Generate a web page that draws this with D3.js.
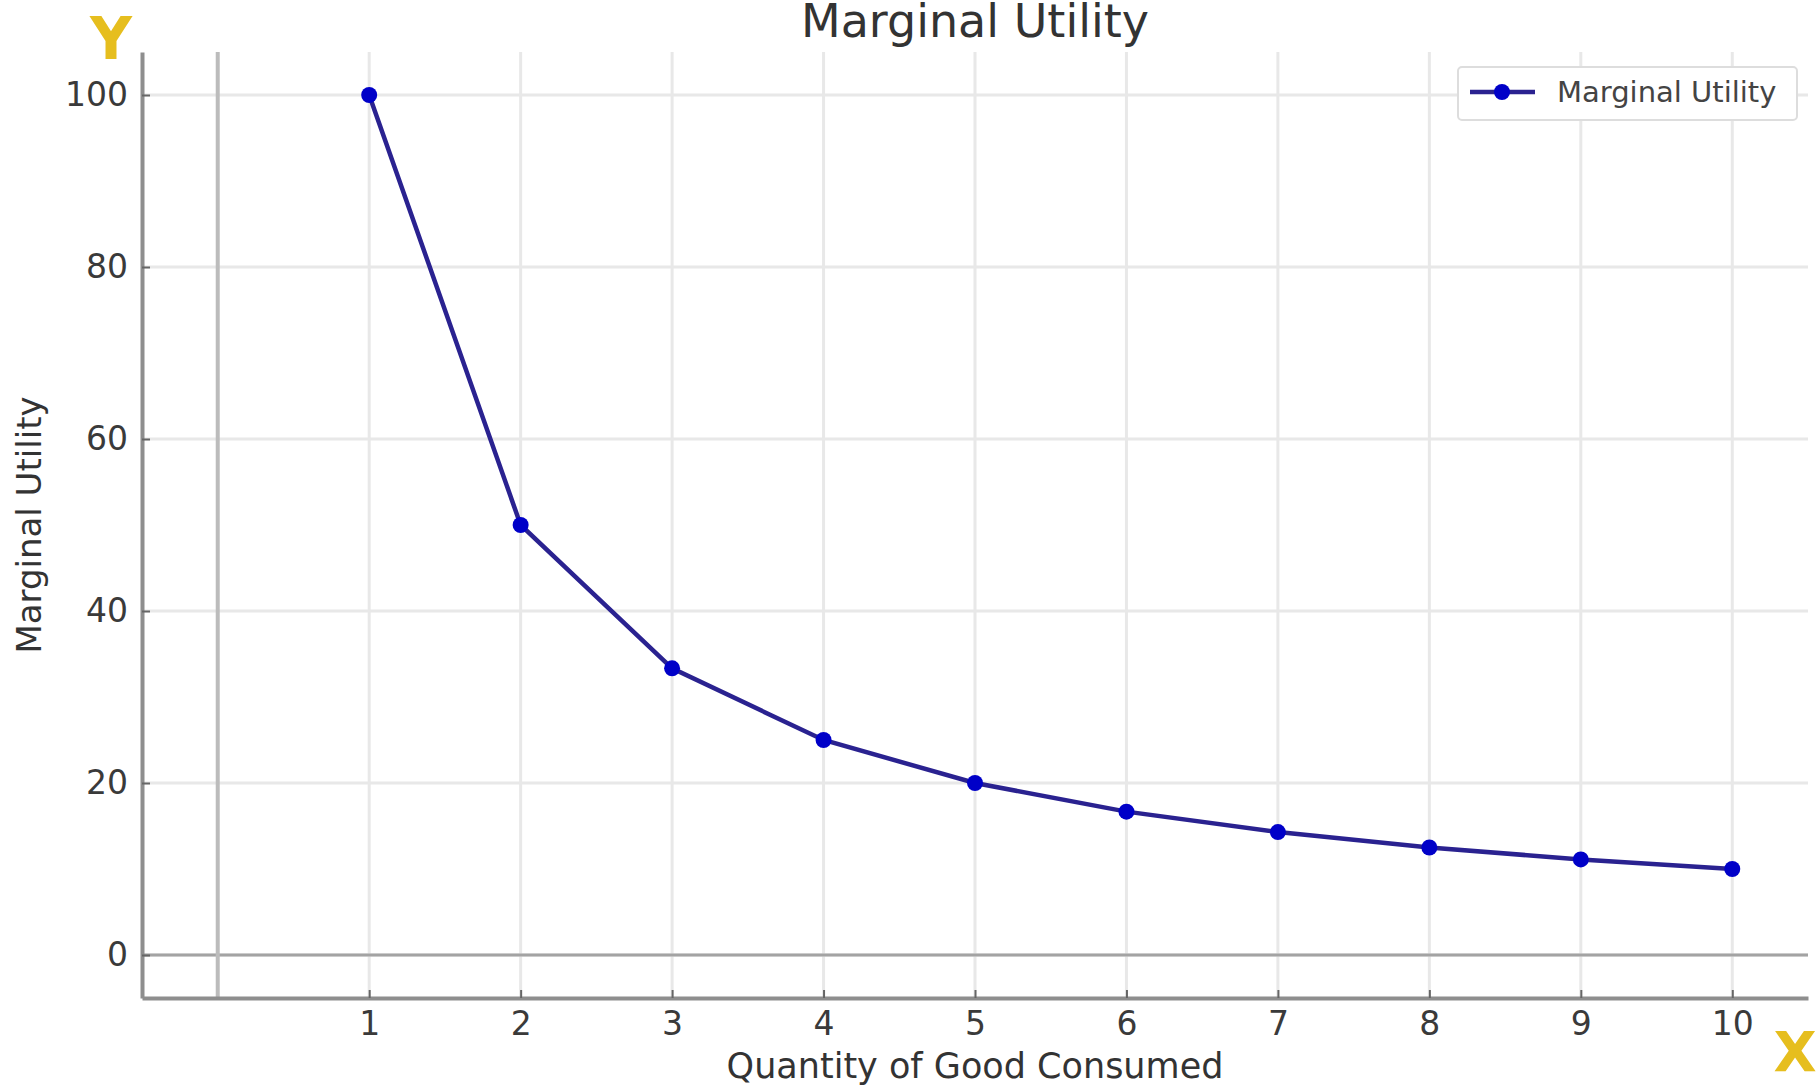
<!DOCTYPE html>
<html lang="en">
    <head>
       <meta charset="utf-8">
       <script src="https://d3js.org/d3.v7.min.js"></script>
       <style>
           body { margin: 0; background: #ffffff; }
           text { font-family: "DejaVu Sans", sans-serif; }
       </style>
    </head>
    <body>

        <script>
            var width  = 1816;
            var height = 1090;

            // data
            var quantity = [1, 2, 3, 4, 5, 6, 7, 8, 9, 10];
            var utility  = [100, 50, 33.33, 25, 20, 16.67, 14.29, 12.5, 11.11, 10];
            var x_ticks  = [1, 2, 3, 4, 5, 6, 7, 8, 9, 10];
            var y_ticks  = [0, 20, 40, 60, 80, 100];

            var series_name = "Marginal Utility";

            // plot area in pixels (window.top is taken, hence the prefix)
            var plot_left   = 142;
            var plot_right  = 1808;
            var plot_top    = 52;
            var plot_bottom = 998;

            var x = d3.scaleLinear().domain([-0.5, 10.5]).range([plot_left, plot_right]);
            var y = d3.scaleLinear().domain([-5, 105]).range([plot_bottom, plot_top]);

            var svg = d3.select("body")
                        .append("svg")
                        .attr("id", "canvas")
                        .attr("width", width)
                        .attr("height", height);

            // grid lines
            var grid = svg.append("g").attr("class", "grid");

            grid.selectAll(".vgrid")
                .data(x_ticks)
                .enter()
                .append("line")
                .attr("x1", function (d) { return x(d); })
                .attr("x2", function (d) { return x(d); })
                .attr("y1", plot_top)
                .attr("y2", plot_bottom)
                .attr("stroke", "#e8e8e8")
                .attr("stroke-width", 3);

            grid.selectAll(".hgrid")
                .data(y_ticks)
                .enter()
                .append("line")
                .attr("x1", plot_left)
                .attr("x2", plot_right)
                .attr("y1", function (d) { return y(d); })
                .attr("y2", function (d) { return y(d); })
                .attr("stroke", "#e8e8e8")
                .attr("stroke-width", 3);

            // zero lines for the axes
            svg.append("line")
               .attr("x1", plot_left).attr("x2", plot_right)
               .attr("y1", y(0)).attr("y2", y(0))
               .attr("stroke", "#a3a3a3")
               .attr("stroke-width", 3);

            svg.append("line")
               .attr("x1", x(0)).attr("x2", x(0))
               .attr("y1", plot_top).attr("y2", plot_bottom)
               .attr("stroke", "#bcbcbc")
               .attr("stroke-width", 4);

            // axes: ticks pointing inward
            var x_axis = d3.axisBottom(x)
                           .tickValues(x_ticks)
                           .tickSizeInner(-8)
                           .tickSizeOuter(0)
                           .tickPadding(14)
                           .tickFormat(d3.format("d"));

            var y_axis = d3.axisLeft(y)
                           .tickValues(y_ticks)
                           .tickSizeInner(-8)
                           .tickSizeOuter(0)
                           .tickPadding(14)
                           .tickFormat(d3.format("d"));

            var gx = svg.append("g")
                        .attr("transform", "translate(0," + plot_bottom + ")")
                        .call(x_axis);

            var gy = svg.append("g")
                        .attr("transform", "translate(" + plot_left + ",0)")
                        .call(y_axis);

            [gx, gy].forEach(function (g) {
                g.select(".domain")
                 .attr("stroke", "#8e8e8e")
                 .attr("stroke-width", 4);
                g.selectAll(".tick line")
                 .attr("stroke", "#666666")
                 .attr("stroke-width", 2);
                g.selectAll(".tick text")
                 .attr("fill", "#3a3a3a")
                 .style("font-size", "33px")
                 .style("font-family", "DejaVu Sans, sans-serif");
            });

            // the curve
            var line = d3.line()
                         .x(function (d, i) { return x(quantity[i]); })
                         .y(function (d) { return y(d); });

            svg.append("path")
               .datum(utility)
               .attr("d", line)
               .attr("fill", "none")
               .attr("stroke", "#2a2290")
               .attr("stroke-width", 4.5);

            svg.selectAll(".dot")
               .data(utility)
               .enter()
               .append("circle")
               .attr("class", "dot")
               .attr("cx", function (d, i) { return x(quantity[i]); })
               .attr("cy", function (d) { return y(d); })
               .attr("r", 8)
               .style("fill", "#0000c8");

            // title and axis labels
            svg.append("text")
               .attr("x", (plot_left + plot_right) / 2)
               .attr("y", 37)
               .attr("text-anchor", "middle")
               .attr("fill", "#333333")
               .style("font-size", "46px")
               .text("Marginal Utility");

            svg.append("text")
               .attr("x", (plot_left + plot_right) / 2)
               .attr("y", 1078)
               .attr("text-anchor", "middle")
               .attr("fill", "#333333")
               .style("font-size", "35px")
               .text("Quantity of Good Consumed");

            svg.append("text")
               .attr("transform", "translate(41," + ((plot_top + plot_bottom) / 2) + ") rotate(-90)")
               .attr("text-anchor", "middle")
               .attr("fill", "#333333")
               .style("font-size", "34px")
               .text("Marginal Utility");

            // legend box, top right
            var legend = svg.append("g").attr("transform", "translate(1458,67)");

            legend.append("rect")
                  .attr("width", 339)
                  .attr("height", 53)
                  .attr("rx", 4)
                  .attr("fill", "#ffffff")
                  .attr("stroke", "#dddddd")
                  .attr("stroke-width", 2);

            legend.append("line")
                  .attr("x1", 12).attr("x2", 77)
                  .attr("y1", 25).attr("y2", 25)
                  .attr("stroke", "#2a2290")
                  .attr("stroke-width", 4.5);

            legend.append("circle")
                  .attr("cx", 44).attr("cy", 25)
                  .attr("r", 8)
                  .style("fill", "#0000c8");

            legend.append("text")
                  .attr("x", 99).attr("y", 35)
                  .attr("fill", "#444444")
                  .style("font-size", "29px")
                  .text(series_name);

            // big yellow axis letters
            svg.append("text")
               .attr("x", 111).attr("y", 59)
               .attr("text-anchor", "middle")
               .attr("fill", "#e6be1e")
               .style("font-size", "58px")
               .style("font-weight", "bold")
               .text("Y");

            svg.append("text")
               .attr("x", 1795).attr("y", 1071)
               .attr("text-anchor", "middle")
               .attr("fill", "#e6be1e")
               .style("font-size", "56px")
               .style("font-weight", "bold")
               .text("X");
        </script>

    </body>
</html>
